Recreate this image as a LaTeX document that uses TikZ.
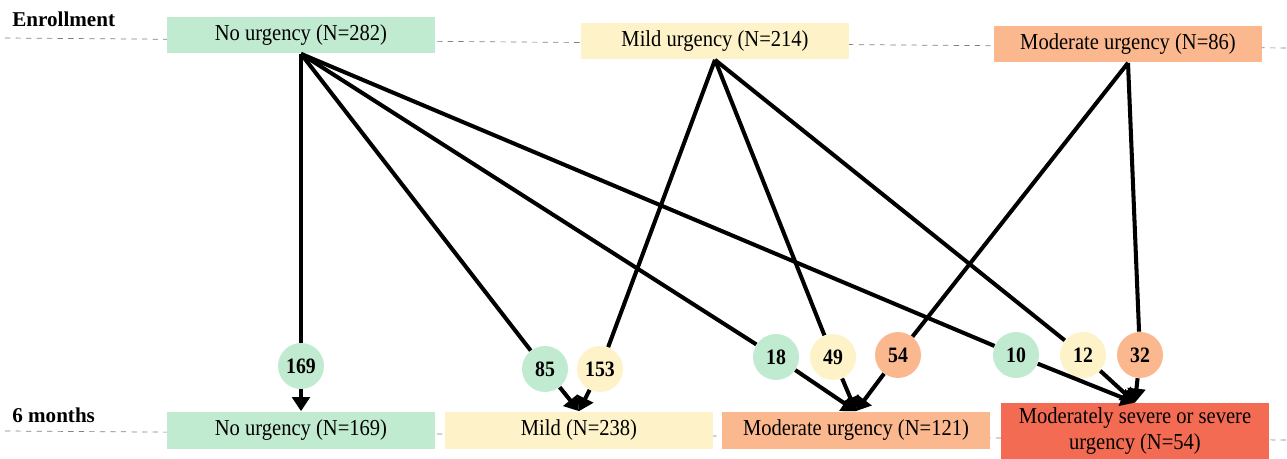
\documentclass[tikz,border=0pt]{standalone}
\usepackage{fontspec}
\setmainfont{Liberation Serif}
\newfontfamily\boxfont[FakeStretch=0.9]{Liberation Serif}
\usepackage{tikz}
\usetikzlibrary{positioning,arrows.meta}
\definecolor{nourg}{RGB}{193,235,208}
\definecolor{mildurg}{RGB}{253,242,200}
\definecolor{modurg}{RGB}{251,184,143}
\definecolor{sevurg}{RGB}{242,107,82}

\begin{document}
\begin{tikzpicture}[x=0.02cm,y=-0.02cm,
    grp/.style={minimum width=5.36cm,minimum height=0.74cm,inner sep=0pt,
      font=\boxfont\fontsize{13}{15}\selectfont},
    cnt/.style={circle,minimum size=0.92cm,inner sep=0pt,
      font=\boxfont\bfseries\fontsize{12.5}{14}\selectfont},
    when/.style={anchor=west,inner sep=0pt,font=\bfseries\fontsize{12}{14}\selectfont},
    flow/.style={line width=2.3pt},
    arr/.style={flow,-{Triangle[length=8pt,width=10pt]}}]
  \useasboundingbox (0,0) rectangle (1287,459);
  \draw[dashed,gray] (5,38) -- (1287,48);
  \draw[dashed,gray] (5,431) -- (1287,440);
  \node[when] (t0) at (12,19) {Enrollment};
  \node[when] (t6) at (12,415) {6 months};

  \node[grp,fill=nourg] (e1) at (301,35) {No urgency (N=282)};
  \node[grp,fill=mildurg] (e2) at (715,41) {Mild urgency (N=214)};
  \node[grp,fill=modurg] (e3) at (1128,44) {Moderate urgency (N=86)};

  \node[grp,fill=nourg] (m1) at (301,430) {No urgency (N=169)};
  \node[grp,fill=mildurg] (m2) at (579,430) {Mild (N=238)};
  \node[grp,fill=modurg] (m3) at (856,430) {Moderate urgency (N=121)};
  \node[grp,fill=sevurg,minimum height=1.12cm,align=center] (m4) at (1135,431)
    {Moderately severe or severe\\urgency (N=54)};

  \node[cnt,fill=nourg] (c1) at (301,366) {169};
  \node[cnt,fill=nourg] (c2) at (545,369) {85};
  \node[cnt,fill=mildurg] (c3) at (600,369) {153};
  \node[cnt,fill=nourg] (c4) at (776,357) {18};
  \node[cnt,fill=mildurg] (c5) at (833,357) {49};
  \node[cnt,fill=modurg] (c6) at (898,355) {54};
  \node[cnt,fill=nourg] (c7) at (1016,355) {10};
  \node[cnt,fill=mildurg] (c8) at (1083,355) {12};
  \node[cnt,fill=modurg] (c9) at (1140,355) {32};

  \foreach \c in {c1,c2,c4,c7} \draw[flow] (e1.south) -- (\c);
  \foreach \c in {c3,c5,c8} \draw[flow] (e2.south) -- (\c);
  \foreach \c in {c6,c9} \draw[flow] (e3.south) -- (\c);

  \draw[arr] (c1) -- (m1.north);
  \foreach \c in {c2,c3} \draw[arr] (\c) -- (m2.north);
  \foreach \c in {c4,c5,c6} \draw[arr] (\c) -- (m3.north);
  \foreach \c in {c7,c8,c9} \draw[arr] (\c) -- (m4.north);
\end{tikzpicture}
\end{document}
